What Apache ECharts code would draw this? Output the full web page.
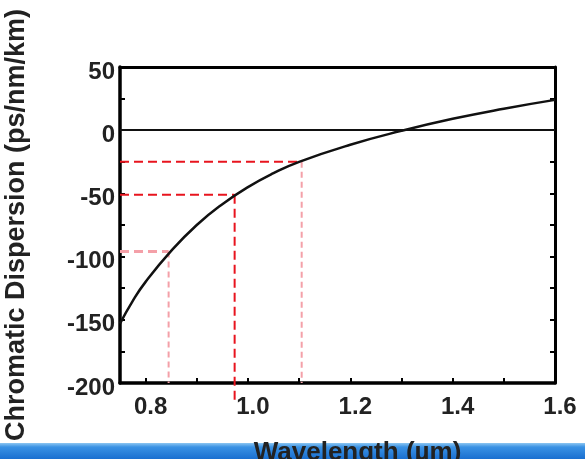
<!DOCTYPE html>
<html>
<head>
<meta charset="utf-8">
<script src="https://cdn.jsdelivr.net/npm/echarts@6/dist/echarts.min.js"></script>
<style>html,body{margin:0;padding:0;background:#fff;}#c{width:585px;height:459px;}</style>
</head>
<body>
<div id="c"></div>
<script>
// ---- data ----
const wavelengths = [0.75, 0.775, 0.8, 0.85, 0.9, 0.95, 1.0, 1.05, 1.1, 1.2, 1.3, 1.4, 1.5, 1.6];
const dispersion  = [-153, -135, -120, -95.5, -75, -58.5, -45, -34, -25, -11.5, -0.5, 9, 17, 24];
const guideWavelengths = [0.845, 0.974, 1.105];
const guideLevels      = [-96, -51, -25];
const guideDropEnds    = [-200, -217, -200];
const xTickValues  = [0.8, 0.9, 1.0, 1.1, 1.2, 1.3, 1.4, 1.5, 1.6];
const xLabelValues = [0.8, 1.0, 1.2, 1.4, 1.6];
const yTickValues  = [-200, -175, -150, -125, -100, -75, -50, -25, 0, 25, 50];
const yLabelValues = [-200, -150, -100, -50, 0, 50];
const xRange = [0.75, 1.6];
const yRange = [-200, 50];

// ---- styles ----
const RED = '#e8141e', PINK = '#f4a0a8';
const hStyles = [
  {color: PINK, width: 3, type: [9, 5]},
  {color: RED, width: 2, type: [9, 5]},
  {color: RED, width: 2, type: [9, 5]}
];
const vStyles = [
  {color: PINK, width: 2, type: [6, 4]},
  {color: RED, width: 2, type: [9, 5]},
  {color: PINK, width: 2, type: [6, 4]}
];

const guideSeries = [];
guideWavelengths.forEach((w, i) => {
  guideSeries.push({
    type: 'line', xAxisIndex: 0, yAxisIndex: 0, symbol: 'none', silent: true, clip: false, z: 1,
    data: [[xRange[0], guideLevels[i]], [w, guideLevels[i]]],
    lineStyle: hStyles[i]
  });
  guideSeries.push({
    type: 'line', xAxisIndex: 0, yAxisIndex: 0, symbol: 'none', silent: true, clip: false, z: 1,
    data: [[w, guideLevels[i]], [w, guideDropEnds[i]]],
    lineStyle: vStyles[i]
  });
});

const FONT = '"Liberation Sans", Arial, sans-serif';
const chart = echarts.init(document.getElementById('c'), null, {renderer: 'canvas'});
chart.setOption({
  animation: false,
  backgroundColor: '#fff',
  grid: {left: 120, right: 30, top: 67, bottom: 76, containLabel: false, outerBoundsMode: 'none'},
  graphic: [{
    type: 'rect', z: -10, silent: true,
    shape: {x: 0, y: 443, width: 585, height: 16},
    style: {fill: new echarts.graphic.LinearGradient(0, 0, 0, 1, [
      {offset: 0, color: '#8cc6f2'}, {offset: 0.25, color: '#3a92e4'}, {offset: 1, color: '#1a6fd0'}
    ])}
  }],
  xAxis: [{
    type: 'value', position: 'bottom', min: xRange[0], max: xRange[1],
    axisLine: {show: true, onZero: false, lineStyle: {color: '#000', width: 3.5}},
    axisTick: {show: true, inside: true, length: 5, customValues: xTickValues, lineStyle: {color: '#000', width: 2}},
    axisLabel: {customValues: xLabelValues, formatter: v => v.toFixed(1), color: '#222', fontFamily: FONT,
      fontWeight: 'bold', fontSize: 24, margin: 12, padding: [0, 0, 0, 10]},
    splitLine: {show: false},
    name: 'Wavelength (\u00b5m)', nameLocation: 'middle', nameGap: 57,
    nameTextStyle: {color: '#222', fontFamily: FONT, fontWeight: 'bold', fontSize: 26, padding: [0, 0, 0, 40]}
  }, {
    type: 'value', position: 'top', min: xRange[0], max: xRange[1],
    axisLine: {show: true, onZero: false, lineStyle: {color: '#000', width: 3}},
    axisTick: {show: false}, axisLabel: {show: false}, splitLine: {show: false}
  }],
  yAxis: [{
    type: 'value', position: 'left', min: yRange[0], max: yRange[1], interval: 25,
    axisLine: {show: true, onZero: false, lineStyle: {color: '#000', width: 3.5}},
    axisTick: {show: true, inside: true, length: 5, customValues: yTickValues, lineStyle: {color: '#000', width: 2}},
    axisLabel: {customValues: yLabelValues, color: '#222', fontFamily: FONT, fontWeight: 'bold', fontSize: 24,
      margin: 5, verticalAlign: 'top', lineHeight: 10},
    splitLine: {show: false},
    name: 'Chromatic Dispersion (ps/nm/km)', nameLocation: 'middle', nameGap: 90, nameRotate: 90,
    nameTextStyle: {color: '#222', fontFamily: FONT, fontWeight: 'bold', fontSize: 27}
  }, {
    type: 'value', position: 'right', min: yRange[0], max: yRange[1], interval: 25,
    axisLine: {show: true, onZero: false, lineStyle: {color: '#000', width: 3}},
    axisTick: {show: true, inside: true, length: 5, customValues: yTickValues, lineStyle: {color: '#000', width: 2}},
    axisLabel: {show: false}, splitLine: {show: false}
  }],
  series: guideSeries.concat([{
    type: 'line', xAxisIndex: 0, yAxisIndex: 0, symbol: 'none', smooth: 0.5, z: 3,
    data: wavelengths.map((w, i) => [w, dispersion[i]]),
    lineStyle: {color: '#111', width: 2.5},
    markLine: {silent: true, symbol: 'none', label: {show: false},
      lineStyle: {color: '#111', width: 2, type: 'solid'},
      data: [{yAxis: 0}]}
  }])
});
</script>
</body>
</html>
